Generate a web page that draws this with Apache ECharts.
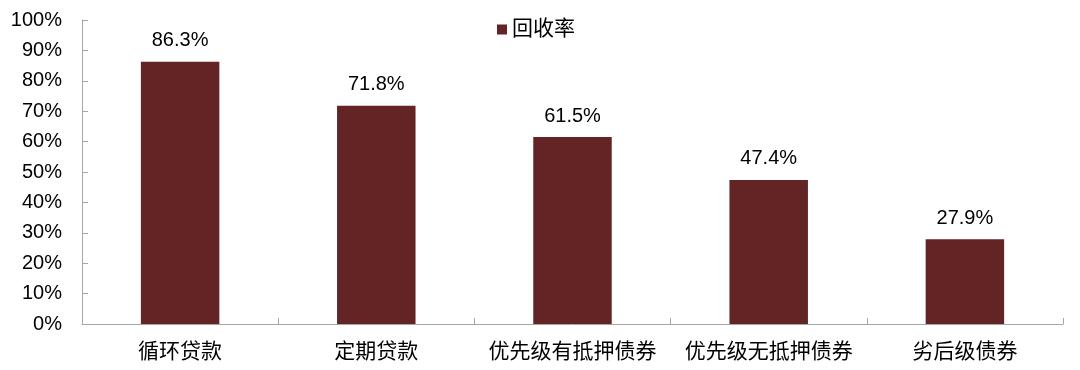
<!DOCTYPE html>
<html><head><meta charset="utf-8">
<script src="https://cdn.jsdelivr.net/npm/echarts@6/dist/echarts.min.js"></script>
<style>html,body{margin:0;padding:0;background:#fff}#c{width:1080px;height:370px}</style>
</head><body><div id="c"></div>
<script>
const categories = ['循环贷款','定期贷款','优先级有抵押债券','优先级无抵押债券','劣后级债券'];
const recovery = [86.3, 71.8, 61.5, 47.4, 27.9];
const seriesName = '回收率';
const font = '"Liberation Sans", Arial, "Noto Sans CJK SC", sans-serif';
const chart = echarts.init(document.getElementById('c'));
chart.setOption({
  animation: false,
  textStyle: {fontFamily: font},
  legend: {
    data: [seriesName], top: 14, left: 492, itemWidth: 10, itemHeight: 10, itemGap: 6,
    icon: 'rect',
    textStyle: {fontSize: 21, color: '#000', fontFamily: font}
  },
  grid: {left: 82, right: 17, top: 20, bottom: 46},
  xAxis: {
    type: 'category', data: categories,
    axisLine: {lineStyle: {color: '#a6a6a6', width: 1}},
    axisTick: {show: true, inside: true, length: 6, lineStyle: {color: '#a6a6a6'}},
    axisLabel: {fontSize: 21, color: '#000', margin: 18, interval: 0, hideOverlap: false, fontFamily: font}
  },
  yAxis: {
    type: 'value', min: 0, max: 100, interval: 10,
    splitLine: {show: false},
    axisLine: {show: true, lineStyle: {color: '#a6a6a6', width: 1}},
    axisTick: {show: true, inside: true, length: 6, lineStyle: {color: '#a6a6a6'}},
    axisLabel: {fontSize: 20, color: '#000', margin: 20, formatter: '{value}%', fontFamily: font}
  },
  series: [{
    name: seriesName, type: 'bar', data: recovery, barWidth: '40%',
    itemStyle: {color: '#622424'},
    label: {show: true, position: 'top', distance: 11, fontSize: 20, color: '#000',
      formatter: p => p.value.toFixed(1) + '%', fontFamily: font}
  }]
});
</script></body></html>
